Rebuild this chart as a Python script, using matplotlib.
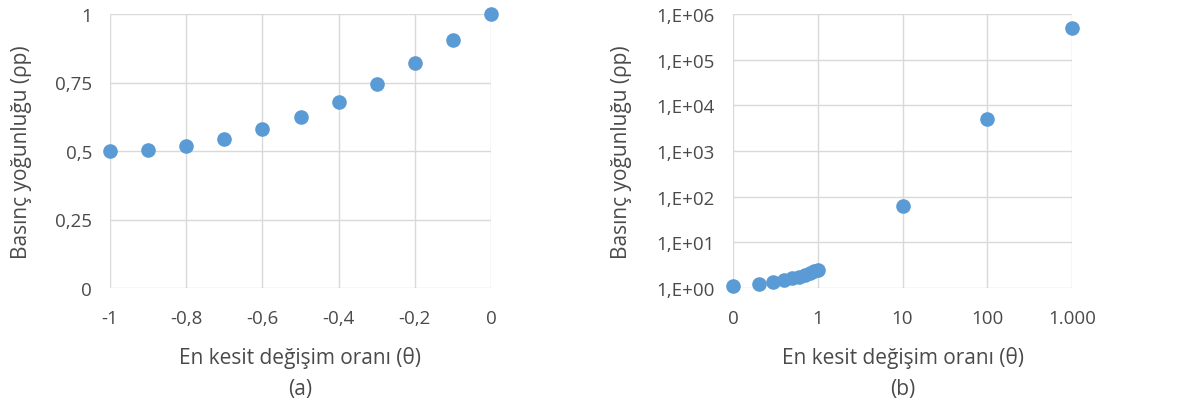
import matplotlib
matplotlib.use("Agg")
import matplotlib.pyplot as plt
from matplotlib.ticker import FixedLocator, NullLocator

# ---- data ----
theta_a = [-1.0, -0.9, -0.8, -0.7, -0.6, -0.5, -0.4, -0.3, -0.2, -0.1, 0.0]
rho_a = [0.5, 0.505, 0.52, 0.545, 0.58, 0.625, 0.68, 0.745, 0.82, 0.905, 1.0]

theta_b = [0.1, 0.2, 0.3, 0.4, 0.5, 0.6, 0.7, 0.8, 0.9, 1.0, 10, 100, 1000]
rho_b = [1.105, 1.22, 1.345, 1.48, 1.625, 1.78, 1.945, 2.12, 2.305, 2.5, 61, 5100, 500000]

xticks_a = [-1, -0.8, -0.6, -0.4, -0.2, 0]
xticklabels_a = ["-1", "-0,8", "-0,6", "-0,4", "-0,2", "0"]
yticks_a = [0, 0.25, 0.5, 0.75, 1]
yticklabels_a = ["0", "0,25", "0,5", "0,75", "1"]

xticks_b = [0.1, 1, 10, 100, 1000]
xticklabels_b = ["0", "1", "10", "100", "1.000"]
yticks_b = [1, 10, 100, 1e3, 1e4, 1e5, 1e6]
yticklabels_b = ["1,E+00", "1,E+01", "1,E+02", "1,E+03", "1,E+04", "1,E+05", "1,E+06"]

xlabel = "En kesit değişim oranı (θ)"
ylabel = "Basınç yoğunluğu (ρp)"

# ---- style ----
plt.rcParams['font.family'] = ['Open Sans', 'DejaVu Sans']
W, H = 1184, 414
fig = plt.figure(figsize=(W / 100, H / 100), dpi=100)
blue = "#5B9BD5"
grid = "#D9D9D9"
tcol = "#4A4A4A"
tick_fs = 13.5
lab_fs = 15

def px(x0, y0, x1, y1):
    return [x0 / W, 1 - y1 / H, (x1 - x0) / W, (y1 - y0) / H]

def style(ax):
    for s in ax.spines.values():
        s.set_visible(False)
    ax.grid(True, which='major', color=grid, linewidth=1.0)
    ax.set_axisbelow(True)
    ax.tick_params(which='both', length=0, labelsize=tick_fs, labelcolor=tcol)
    ax.tick_params(axis='y', pad=13)
    ax.tick_params(axis='x', pad=15)

# (a)
ax1 = fig.add_axes(px(110, 15, 491, 289))
ax1.plot(theta_a, rho_a, 'o', color=blue, ms=9.5, clip_on=False, zorder=3)
ax1.set_xlim(-1, 0)
ax1.set_ylim(0, 1)
ax1.set_xticks(xticks_a)
ax1.set_xticklabels(xticklabels_a)
ax1.set_yticks(yticks_a)
ax1.set_yticklabels(yticklabels_a)
style(ax1)

# (b)
ax2 = fig.add_axes(px(733, 15, 1072, 289))
ax2.plot(theta_b, rho_b, 'o', color=blue, ms=9.5, clip_on=False, zorder=3)
ax2.set_xscale('log')
ax2.set_yscale('log')
ax2.set_xlim(0.1, 1000)
ax2.set_ylim(1, 1e6)
ax2.xaxis.set_major_locator(FixedLocator(xticks_b))
ax2.yaxis.set_major_locator(FixedLocator(yticks_b))
ax2.xaxis.set_minor_locator(NullLocator())
ax2.yaxis.set_minor_locator(NullLocator())
ax2.set_xticklabels(xticklabels_b)
ax2.set_yticklabels(yticklabels_b)
style(ax2)

# labels
for cx, tag in [(300, "(a)"), (903, "(b)")]:
    fig.text(cx / W, 1 - 358 / H, xlabel, ha='center', va='center', fontsize=lab_fs, color=tcol)
    fig.text(cx / W, 1 - 390 / H, tag, ha='center', va='center', fontsize=lab_fs, color=tcol)
for lx in [22, 622]:
    fig.text(lx / W, 1 - 152 / H, ylabel, ha='center', va='center', rotation=90,
             fontsize=lab_fs, color=tcol)

fig.savefig("out.png", dpi=100, facecolor="white")
